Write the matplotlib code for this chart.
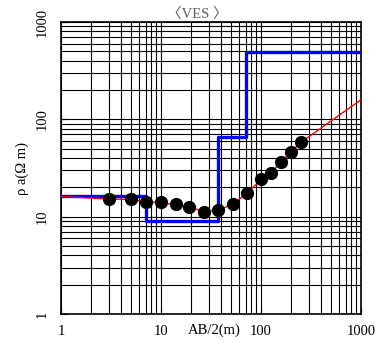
import matplotlib
matplotlib.use("Agg")
import matplotlib.pyplot as plt
from matplotlib.ticker import LogLocator, NullFormatter
import numpy as np

# Observed apparent resistivity
ab2 = [3, 5, 7, 10, 14, 19, 27, 37, 52, 72, 100, 125, 158, 198, 250]
rho_a = [15.2, 15.1, 14.0, 14.0, 13.5, 12.5, 11.3, 11.7, 13.5, 17.4, 24.2, 28.3, 36.1, 46.6, 58.0]

# Model (calculated) curve
model_x = [1, 3, 5, 7, 10, 14, 19, 27, 37, 52, 72, 100, 125, 158, 198, 250, 1000]
model_y = [16.1, 15.2, 15.0, 14.2, 13.9, 13.3, 12.4, 11.4, 11.6, 13.4, 17.3, 24.0, 28.5, 36.0, 46.0, 58.0, 159]

# Layered model (step)
layer_depth = [1, 7.0, 37.4, 70.3, 1000]
layer_rho = [16.2, 8.95, 65.3, 496]

xticks = [1, 10, 100, 1000]
xticklabels = ["1", "10", "100", "1000"]
yticks = [1, 10, 100, 1000]
yticklabels = ["1", "10", "100", "1000"]

fam = ["Liberation Serif", "Noto Sans CJK JP", "DejaVu Sans"]
plt.rcParams["font.family"] = fam

fig = plt.figure(figsize=(3.78, 3.47), dpi=100)
ax = fig.add_axes([61/378, 1-314/347, 300/378, 292/347])
ax.set_xscale("log")
ax.set_yscale("log")
ax.set_xlim(1, 1000)
ax.set_ylim(1, 1000)

# grid
ax.xaxis.set_minor_locator(LogLocator(base=10, subs=np.arange(2, 10)))
ax.yaxis.set_minor_locator(LogLocator(base=10, subs=np.arange(2, 10)))
ax.xaxis.set_minor_formatter(NullFormatter())
ax.yaxis.set_minor_formatter(NullFormatter())
ax.grid(True, which="both", color="black", linewidth=0.8)
ax.tick_params(which="minor", length=0)
ax.tick_params(which="major", direction="in", length=4, width=0.8, labelsize=10.5)

# step model
sx = []
sy = []
for i, r in enumerate(layer_rho):
    sx += [layer_depth[i], layer_depth[i+1]]
    sy += [r, r]
ax.plot(sx, sy, color="#0000ff", linewidth=2.4, zorder=3)

ax.plot(model_x, model_y, color="red", linewidth=1.0, zorder=4)
ax.plot(ab2, rho_a, "o", color="black", markersize=8.5, zorder=5)

ax.set_xticks(xticks)
ax.set_xticklabels(xticklabels)
ax.set_yticks(yticks)
ax.set_yticklabels(yticklabels, rotation=90, va="center")
ax.tick_params(axis="x", pad=8)
ax.tick_params(axis="y", pad=9)

for s in ax.spines.values():
    s.set_linewidth(1.2)

fig.text(214/378, 1-330/347, "AB/2(m)", ha="center", va="center", fontsize=10.5, family=fam)
fig.text(22/378, 1-168/347, "ρ a(Ω m)", ha="center", va="center", rotation=90, fontsize=10.5, family=fam)
fig.text(197/378, 1-14/347, "〈VES 〉", ha="center", va="center", fontsize=10.5, color="#606060", family=fam)

fig.savefig("out.png", dpi=100)
